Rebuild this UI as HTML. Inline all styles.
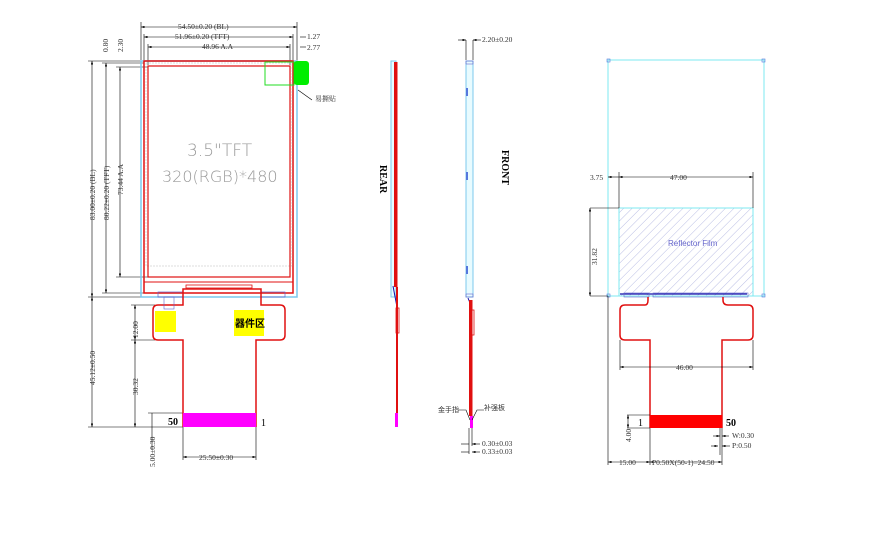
<!DOCTYPE html>
<html><head><meta charset="utf-8"><style>
html,body{margin:0;padding:0;background:#fff;}
svg{display:block;}
text{font-family:"Liberation Serif","Noto Serif CJK SC",serif;fill:#333;}
</style></head><body>
<svg width="870" height="537" viewBox="0 0 870 537" xmlns="http://www.w3.org/2000/svg">
<defs>
<pattern id="h" width="6" height="6" patternUnits="userSpaceOnUse" patternTransform="rotate(45)">
<line x1="0" y1="0" x2="0" y2="6" stroke="#9aa0d8" stroke-width="0.7"/>
</pattern>
<marker id="a" viewBox="0 0 6 4" refX="6" refY="2" markerWidth="6" markerHeight="4" orient="auto-start-reverse"><path d="M0,0L6,2L0,4z" fill="#000"/></marker>
</defs>
<g stroke="#000" stroke-width="0.6" fill="none">
<line x1="141" y1="27" x2="297" y2="27" marker-start="url(#a)" marker-end="url(#a)"/>
<line x1="144" y1="37" x2="293" y2="37" marker-start="url(#a)" marker-end="url(#a)"/>
<line x1="148" y1="47" x2="290" y2="47" marker-start="url(#a)" marker-end="url(#a)"/>
<line x1="141" y1="22" x2="141" y2="60"/><line x1="297" y1="22" x2="297" y2="60"/>
<line x1="144" y1="34" x2="144" y2="60"/><line x1="293" y1="34" x2="293" y2="60"/>
<line x1="148" y1="44" x2="148" y2="65"/><line x1="290" y1="44" x2="290" y2="65"/>
<line x1="92" y1="61" x2="92" y2="297" marker-start="url(#a)" marker-end="url(#a)"/>
<line x1="106" y1="63" x2="106" y2="293" marker-start="url(#a)" marker-end="url(#a)"/>
<line x1="120" y1="67" x2="120" y2="277" marker-start="url(#a)" marker-end="url(#a)"/>
<line x1="88" y1="61" x2="141" y2="61"/><line x1="102" y1="63" x2="144" y2="63"/>
<line x1="116" y1="67" x2="148" y2="67"/><line x1="116" y1="277" x2="148" y2="277"/>
<line x1="102" y1="293" x2="144" y2="293"/><line x1="88" y1="297" x2="141" y2="297"/>
<line x1="92" y1="297" x2="92" y2="427" marker-start="url(#a)" marker-end="url(#a)"/>
<line x1="88" y1="427" x2="183" y2="427"/>
<line x1="135" y1="305" x2="135" y2="340" marker-start="url(#a)" marker-end="url(#a)"/>
<line x1="135" y1="340" x2="135" y2="427" marker-start="url(#a)" marker-end="url(#a)"/>
<line x1="131" y1="305" x2="155" y2="305"/><line x1="131" y1="340" x2="155" y2="340"/>
<line x1="152" y1="413" x2="152" y2="427"/><line x1="148" y1="413" x2="183" y2="413"/>
<line x1="152" y1="427" x2="152" y2="450"/>
<line x1="183" y1="427" x2="183" y2="460"/><line x1="256" y1="427" x2="256" y2="460"/>
<line x1="183" y1="457" x2="256" y2="457" marker-start="url(#a)" marker-end="url(#a)"/>
<line x1="300" y1="37" x2="306" y2="37"/><line x1="300" y1="47" x2="306" y2="47"/>
<line x1="298" y1="90" x2="312" y2="100"/>
</g>
<g font-size="7.5">
<text x="178" y="29">54.50±0.20 (BL)</text>
<text x="175" y="39">51.96±0.20 (TFT)</text>
<text x="202" y="49">48.96 A.A</text>
<text x="307" y="39">1.27</text><text x="307" y="50">2.77</text>
<text x="315" y="101" font-size="7">易撕贴</text>
<text transform="translate(95,220) rotate(-90)">83.00±0.20 (BL)</text>
<text transform="translate(109,220) rotate(-90)">80.22±0.20 (TFT)</text>
<text transform="translate(123,195) rotate(-90)">73.44 A.A</text>
<text transform="translate(108,52) rotate(-90)">0.80</text>
<text transform="translate(123,52) rotate(-90)">2.30</text>
<text transform="translate(95,385) rotate(-90)">45.12±0.50</text>
<text transform="translate(138,338) rotate(-90)">12.00</text>
<text transform="translate(138,395) rotate(-90)">30.32</text>
<text transform="translate(155,467) rotate(-90)">5.00±0.30</text>
<text x="199" y="460">25.50±0.30</text>
</g>
<rect x="141" y="61" width="156" height="236" fill="none" stroke="#7cc8ee" stroke-width="1.5"/>
<rect x="144" y="61" width="149" height="232" fill="none" stroke="#e01010" stroke-width="1.5"/>
<rect x="146" y="63" width="146" height="203" fill="none" stroke="#bbb" stroke-width="0.5" stroke-dasharray="2,1"/>
<rect x="148" y="66" width="142" height="211" fill="none" stroke="#e01010" stroke-width="1.2"/>
<line x1="144" y1="282" x2="293" y2="282" stroke="#e01010"/>
<rect x="186" y="285" width="66" height="3" fill="none" stroke="#e01010" stroke-width="0.8"/>
<rect x="265" y="62" width="29" height="23" fill="none" stroke="#22dd22" stroke-width="1"/>
<rect x="294" y="61" width="15" height="24" rx="3" fill="#00ee00"/>
<text x="187" y="156" style="font-family:'DejaVu Sans','Liberation Sans',sans-serif;font-size:17px;font-weight:200;fill:#999">3.5"TFT</text>
<text x="162" y="182" style="font-family:'DejaVu Sans','Liberation Sans',sans-serif;font-size:16px;font-weight:200;fill:#999">320(RGB)*480</text>
<rect x="158" y="292" width="25" height="5" fill="none" stroke="#6666cc" stroke-width="0.7"/>
<rect x="261" y="292" width="24" height="5" fill="none" stroke="#6666cc" stroke-width="0.7"/>
<path d="M183,427 V340 H158 Q153,340 153,335 V310 Q153,305 158,305 H183 V289 H261 V305 H280 Q285,305 285,310 V335 Q285,340 280,340 H256 V427" fill="none" stroke="#e01010" stroke-width="1.5"/>
<rect x="164" y="297" width="10" height="12" fill="none" stroke="#6666cc" stroke-width="0.6"/>
<rect x="155" y="311" width="21" height="21" fill="#ffff00"/>
<rect x="234" y="310" width="30" height="26" fill="#ffff00"/>
<text x="235" y="327" style="font-family:'Noto Sans CJK SC',sans-serif;font-size:10px;font-weight:bold;fill:#000">器件区</text>
<rect x="183" y="413" width="73" height="14" fill="#ff00ff"/>
<text x="168" y="425" font-size="10" font-weight="bold" style="fill:#000">50</text>
<text x="261" y="426" font-size="10" style="fill:#000">1</text>
<rect x="391" y="61" width="5" height="236" fill="#e8fbff" stroke="#7cc8ee"/>
<rect x="394" y="62" width="3.5" height="225" fill="#e01010"/>
<path d="M393,286 L397,307" stroke="#1010aa" stroke-width="1"/>
<rect x="396" y="287" width="2" height="126" fill="#e01010"/>
<rect x="396" y="308" width="3" height="25" fill="none" stroke="#e01010" stroke-width="0.8"/>
<rect x="395" y="413" width="3" height="14" fill="#ff00ff"/>
<text transform="translate(380,165) rotate(90)" font-size="10" font-weight="bold" style="fill:#000">REAR</text>
<rect x="466" y="61" width="7" height="236" fill="#e8fbff" stroke="#7cc8ee"/>
<rect x="466" y="61" width="7" height="3" fill="none" stroke="#6666cc" stroke-width="0.6"/>
<rect x="466" y="294" width="7" height="3" fill="none" stroke="#6666cc" stroke-width="0.6"/>
<rect x="466" y="88" width="2" height="8" fill="#5577dd"/>
<rect x="466" y="172" width="2" height="8" fill="#5577dd"/>
<rect x="466" y="266" width="2" height="8" fill="#5577dd"/>
<path d="M468,298 L472,308" stroke="#1010aa" stroke-width="1"/>
<rect x="469" y="300" width="3.5" height="116" fill="#e01010"/>
<rect x="471" y="310" width="3" height="25" fill="none" stroke="#e01010" stroke-width="0.8"/>
<rect x="470" y="416" width="3" height="12" fill="#ff00ff"/>
<text transform="translate(502,150) rotate(90)" font-size="10" font-weight="bold" style="fill:#000">FRONT</text>
<g stroke="#000" stroke-width="0.6" fill="none">
<line x1="466" y1="40" x2="466" y2="60"/><line x1="473" y1="40" x2="473" y2="60"/>
<line x1="458" y1="40" x2="466" y2="40" marker-end="url(#a)"/><line x1="481" y1="40" x2="473" y2="40" marker-end="url(#a)"/>
<line x1="469" y1="428" x2="469" y2="454"/><line x1="472" y1="428" x2="472" y2="446"/>
<line x1="461" y1="444" x2="469" y2="444"/><line x1="480" y1="444" x2="472" y2="444" marker-end="url(#a)"/>
<line x1="461" y1="452" x2="469" y2="452"/><line x1="480" y1="452" x2="472" y2="452" marker-end="url(#a)"/>
<path d="M458,410 L466,410 L470,420"/><path d="M484,410 L477,410 L472,420"/>
</g>
<g font-size="7.5">
<text x="482" y="42">2.20±0.20</text>
<text x="482" y="446">0.30±0.03</text>
<text x="482" y="454">0.33±0.03</text>
<text x="438" y="412" style="font-family:'Noto Sans CJK SC',sans-serif;font-size:7px">金手指</text>
<text x="484" y="410" style="font-family:'Noto Sans CJK SC',sans-serif;font-size:7px">补强板</text>
</g>
<rect x="608" y="60" width="156" height="236" fill="none" stroke="#7ee8f0" stroke-width="1"/>
<rect x="607" y="59" width="3" height="3" fill="none" stroke="#5577dd" stroke-width="0.6"/>
<rect x="762" y="59" width="3" height="3" fill="none" stroke="#5577dd" stroke-width="0.6"/>
<rect x="607" y="294" width="3" height="3" fill="none" stroke="#5577dd" stroke-width="0.6"/>
<rect x="762" y="294" width="3" height="3" fill="none" stroke="#5577dd" stroke-width="0.6"/>
<rect x="619" y="208" width="134" height="88" fill="url(#h)" stroke="#7ee8f0" stroke-width="1"/>
<text x="668" y="246" style="font-family:'Liberation Sans',sans-serif;font-size:8px;fill:#6666cc">Reflector Film</text>
<line x1="620" y1="294" x2="747" y2="294" stroke="#1010aa" stroke-width="1.2"/>
<rect x="624" y="293" width="25" height="4" fill="none" stroke="#6666cc" stroke-width="0.6"/>
<rect x="653" y="293" width="95" height="4" fill="none" stroke="#6666cc" stroke-width="0.6"/>
<path d="M650,428 V340 H625 Q620,340 620,335 V310 Q620,305 625,305 H645 Q648,305 648,300 V297 M723,297 V300 Q723,305 728,305 H748 Q753,305 753,310 V335 Q753,340 748,340 H722 V428" fill="none" stroke="#e01010" stroke-width="1.5"/>
<rect x="650" y="415" width="72" height="13" fill="#ff0000"/>
<text x="638" y="426" font-size="10" style="fill:#000">1</text>
<text x="726" y="426" font-size="10" font-weight="bold" style="fill:#000">50</text>
<g stroke="#000" stroke-width="0.6" fill="none">
<line x1="608" y1="177" x2="619" y2="177" marker-start="url(#a)"/><line x1="619" y1="177" x2="753" y2="177" marker-start="url(#a)" marker-end="url(#a)"/>
<line x1="619" y1="172" x2="619" y2="208"/><line x1="753" y1="172" x2="753" y2="208"/>
<line x1="590" y1="208" x2="619" y2="208"/><line x1="590" y1="296" x2="608" y2="296"/>
<line x1="590" y1="208" x2="590" y2="296" marker-start="url(#a)" marker-end="url(#a)"/>
<line x1="620" y1="340" x2="620" y2="370"/><line x1="753" y1="340" x2="753" y2="370"/>
<line x1="620" y1="367" x2="753" y2="367" marker-start="url(#a)" marker-end="url(#a)"/>
<line x1="627" y1="415" x2="650" y2="415"/><line x1="627" y1="428" x2="650" y2="428"/>
<line x1="628" y1="415" x2="628" y2="428" marker-start="url(#a)" marker-end="url(#a)"/>
<line x1="608" y1="296" x2="608" y2="465"/><line x1="650" y1="428" x2="650" y2="465"/>
<line x1="722" y1="428" x2="722" y2="465"/><line x1="720" y1="428" x2="720" y2="455"/>
<line x1="608" y1="462" x2="650" y2="462" marker-start="url(#a)" marker-end="url(#a)"/>
<line x1="650" y1="462" x2="722" y2="462" marker-start="url(#a)" marker-end="url(#a)"/>
<line x1="713" y1="436" x2="720" y2="436" marker-end="url(#a)"/><line x1="729" y1="436" x2="722" y2="436" marker-end="url(#a)"/>
<line x1="711" y1="446" x2="718" y2="446" marker-end="url(#a)"/><line x1="730" y1="446" x2="722" y2="446" marker-end="url(#a)"/>
</g>
<g font-size="7.5">
<text x="590" y="180">3.75</text>
<text x="670" y="180">47.00</text>
<text transform="translate(597,265) rotate(-90)">31.82</text>
<text x="676" y="370">46.00</text>
<text transform="translate(631,442) rotate(-90)">4.00</text>
<text x="732" y="438">W:0.30</text>
<text x="732" y="448">P:0.50</text>
<text x="619" y="465">15.00</text>
<text x="652" y="465">P0.50X(50-1)=24.50</text>
</g>
</svg>
</body></html>
